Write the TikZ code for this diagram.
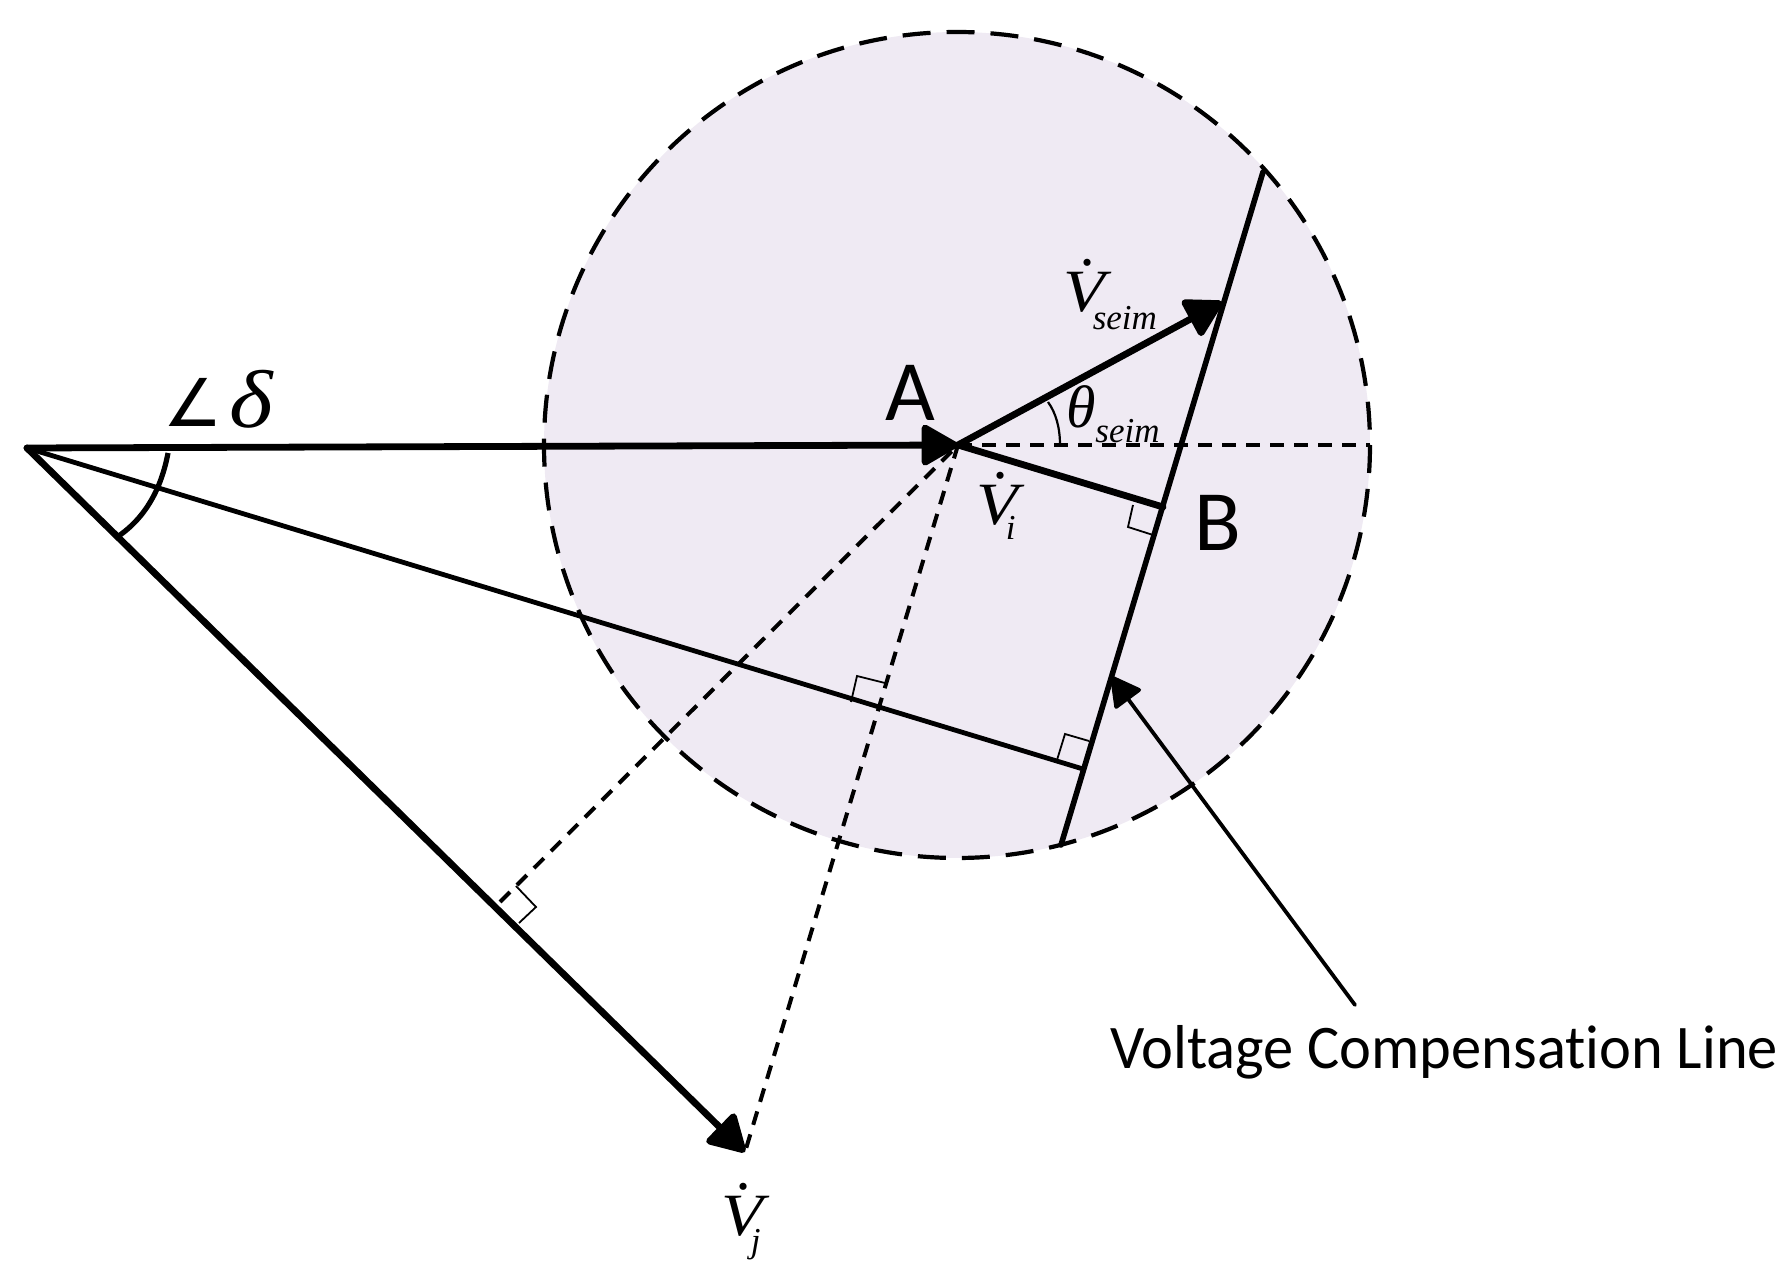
\documentclass[tikz,border=0pt]{standalone}
\usepackage{graphicx}
\usepackage{fontspec}
\usetikzlibrary{arrows.meta}
\setmainfont{Liberation Serif}
\newfontfamily\calib[Ligatures=NoCommon]{Carlito}
\newfontfamily\symfont{DejaVu Sans}
\definecolor{disc}{HTML}{EFEAF3}
\newcommand{\mainsym}{\fontsize{30}{30}\selectfont\itshape}
\newcommand{\subsym}{\fontsize{17.5}{17.5}\selectfont\itshape}
\newcommand{\dottedV}[3]{\mainsym\rlap{\kern#3\raisebox{23pt}{.}}\scalebox{1.14}[1]{V}\kern-6pt\raisebox{#2}{\subsym #1}}
\tikzset{
  px/.style={x=0.5pt,y=-0.5pt},
  heavy/.style={line width=3.4pt,line cap=round,line join=round},
  medium/.style={line width=2.8pt,line cap=round},
  thinline/.style={line width=2.4pt,line cap=round},
  tick/.style={line width=0.9pt},
  shortdash/.style={line width=2pt,dash pattern=on 7pt off 5pt},
  bigtip/.style={-{Triangle[round,length=20pt,width=22pt]}},
  smalltip/.style={-{Triangle[round,length=16pt,width=17pt]}},
  lab/.style={inner sep=0pt,outer sep=0pt,anchor=base west},
  letter/.style={lab,font=\calib\fontsize{43}{43}\selectfont},
}
\begin{document}
\begin{tikzpicture}[px]
\useasboundingbox (0,0) rectangle (1790,1277);
\coordinate (O) at (27,448);
\coordinate (A) at (958,445);
\coordinate (C) at (957,445);
\coordinate (S) at (1222,302);
\coordinate (B) at (1163,507);
\coordinate (T) at (1263,172);
\coordinate (U) at (1061,845);
\coordinate (R) at (1370,445);
\coordinate (E) at (1083,769);
\coordinate (J) at (745,1152);
\coordinate (F) at (500,902);
\coordinate (P) at (1111,676);
\coordinate (Q) at (1355,1005);
% disc
\path[fill=disc] (C) circle[radius=413];
\draw[line width=2.1pt,dash pattern=on 14pt off 8pt] (C) circle[radius=413];
% dashed lines
\draw[shortdash] (A) -- (R);
\draw[shortdash] (A) -- (J);
\draw[shortdash] (F) -- (A);
% main lines
\draw[heavy,bigtip] (O) -- (A);
\draw[heavy,bigtip] (O) -- (J);
\draw[heavy,bigtip] (A) -- (S);
\draw[heavy] (A) -- (B);
\draw[medium] (T) -- (U);
\draw[thinline] (O) -- (E);
\draw[line width=1.9pt,line cap=round,smalltip] (Q) -- (P);
% angle arcs
\draw[line width=2.6pt] (168,453) .. controls (162,485) and (148,515) .. (120,535);
\draw[line width=1.1pt] (1048,402) .. controls (1056,413) and (1060,428) .. (1060,445);
% right-angle marks
\draw[tick] (1133,505) -- (1128,527) -- (1153,535);
\draw[tick] (1057,760) -- (1065,734) -- (1089,741);
\draw[tick] (851,702) -- (857,676) -- (885,683);
\draw[tick] (516,886) -- (536,907) -- (519,923);
% labels
\node[letter] (la) at (885,421) {A};
\node[letter] (lb) at (1194,551) {B};
\node[lab] (lv) at (1110,1069) {\scalebox{0.975}[1]{\calib\fontsize{31}{31}\selectfont Voltage Compensation Line}};
\node[lab] (vs) at (1063,312) {\dottedV{seim}{-9pt}{9pt}};
\node[lab] (vi) at (976,525) {\dottedV{i}{-7.5pt}{9.25pt}};
\node[lab] (vj) at (721,1235) {\dottedV{j}{-8.5pt}{8.25pt}};
\node[lab] (th) at (1066,428) {\mainsym θ\kern0pt\raisebox{-7.5pt}{\subsym seim}};
\node[lab] (ang) at (163,427) {\fontsize{33}{33}\selectfont\symfont ∠};
\node[lab] (del) at (229,428) {\scalebox{1.14}[1]{\fontsize{41}{41}\selectfont\itshape δ}};
\end{tikzpicture}
\end{document}
